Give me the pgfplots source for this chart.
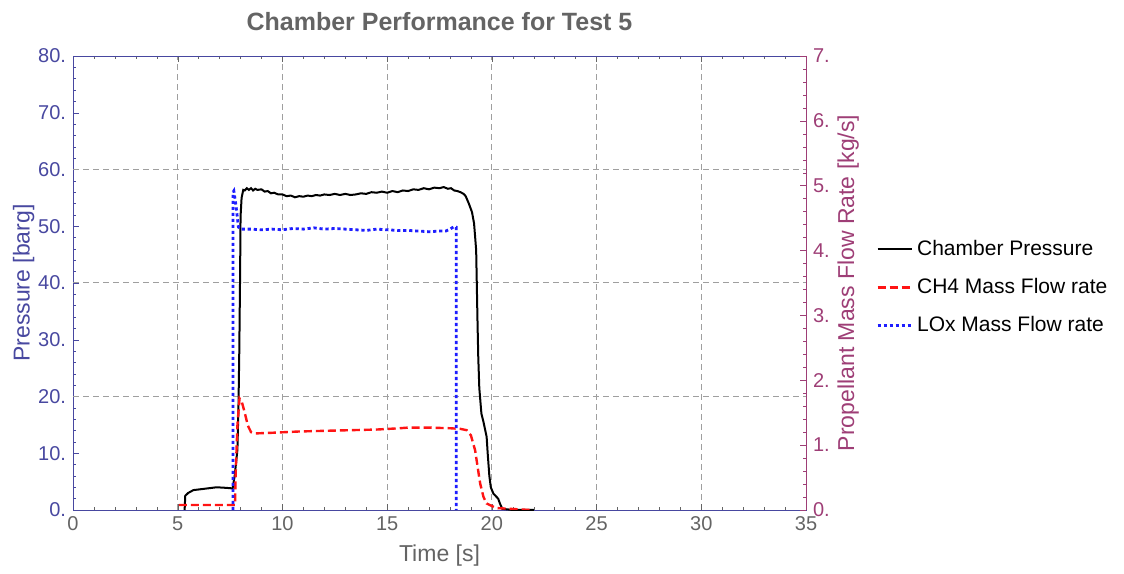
\documentclass[border=0pt]{standalone}
\usepackage{fontspec}
\setmainfont{Liberation Sans}
\usepackage{pgfplots}
\pgfplotsset{compat=1.18}
\definecolor{lcol}{RGB}{72,72,160}
\definecolor{rcol}{RGB}{158,62,118}
\definecolor{gcol}{RGB}{100,100,100}
\definecolor{lox}{RGB}{30,30,255}
\definecolor{ch4}{RGB}{255,20,20}

\pgfplotsset{
  common/.style={
    width=366.5pt, height=227pt, scale only axis,
    xmin=0, xmax=35, tick align=inside,
    major tick length=3pt, minor tick length=1.5pt,
    /pgf/number format/assume math mode=true,
    every tick label/.append style={font=\fontsize{10}{12}\selectfont},
    label style={font=\fontsize{11.5}{13}\selectfont},
  },
}

\begin{document}
\begin{tikzpicture}
\begin{axis}[common, clip=false,
  ymin=0, ymax=80,
  xtick={0,5,...,35}, minor x tick num=4, xtick pos=both,
  ytick={0,10,...,80}, yticklabels={0.,10.,20.,30.,40.,50.,60.,70.,80.},
  minor y tick num=4, ytick pos=left,
  xmajorgrids, grid style={gray!75, dash pattern=on 3pt off 2pt, line width=0.5pt},
  extra y ticks={20,40,60}, extra y tick labels={},
  extra y tick style={grid=major, major tick length=0pt},
  x axis line style={gray!80}, y axis line style={lcol},
  xtick style={gcol}, ytick style={lcol},
  xticklabel style={gcol}, yticklabel style={lcol},
  xlabel={Time [s]}, xlabel style={gcol},
  ylabel={Pressure [barg]}, ylabel style={lcol}, ylabel shift=-5pt,
  title={Chamber Performance for Test 5},
  title style={gcol, font=\fontsize{12.5}{15}\selectfont\bfseries, yshift=3pt},
]
\addplot[black, line width=1pt] coordinates {
(5.33,0) (5.36,2.5) (5.5,3.0) (5.75,3.5) (6.2,3.7) (6.86,4.0) (7.3,3.9) (7.62,3.8)
(7.72,6) (7.85,10.6) (7.9,18) (7.94,28) (7.98,42) (8.0,51.7) (8.05,55) (8.13,56.4)
(8.2,56.3) (8.3,56.7) (8.4,56.4) (8.5,56.7) (8.6,56.3) (8.7,56.6) (8.8,56.4) (9.0,56.5)
(9.15,56.1) (9.3,56.2) (9.45,55.8) (9.6,55.9) (9.8,55.6) (10.0,55.6) (10.2,55.3)
(10.4,55.4) (10.6,55.1) (10.8,55.3) (11.0,55.2) (11.2,55.4) (11.4,55.3) (11.6,55.5)
(11.8,55.4) (12.0,55.6) (12.25,55.5) (12.5,55.7) (12.75,55.5) (13.0,55.7) (13.25,55.5)
(13.5,55.6) (13.75,55.8) (14.0,55.7) (14.25,56.0) (14.5,55.9) (14.75,56.1) (15.0,55.9)
(15.25,56.2) (15.5,56.0) (15.75,56.3) (16.0,56.2) (16.25,56.5) (16.5,56.4) (16.75,56.7)
(17.0,56.5) (17.25,56.8) (17.5,56.7) (17.7,56.9) (17.9,56.6) (18.05,56.7) (18.2,56.3)
(18.35,56.2) (18.5,56.0) (18.65,55.7) (18.75,55.3)
(18.9,54.0) (19.05,52.5) (19.15,50.5) (19.25,45.8) (19.28,40) (19.31,34) (19.35,27)
(19.4,21.5) (19.5,17) (19.6,15.5) (19.75,12.9) (19.8,10) (19.88,6) (19.95,4)
(20.07,2.9) (20.3,2.0) (20.4,1.0) (20.5,0.2) (21,0) (22,0)
};
\path (rel axis cs:-0.0996,-0.1322) rectangle (rel axis cs:1.4338,1.1233);
\end{axis}
\begin{axis}[common,
  ymin=0, ymax=7,
  axis x line=none, axis y line*=right,
  ytick={0,1,...,7}, yticklabels={0.,1.,2.,3.,4.,5.,6.,7.},
  minor y tick num=4,
  y axis line style={rcol, -}, ytick style={rcol}, yticklabel style={rcol},
  ylabel={Propellant Mass Flow Rate [kg/s]}, ylabel style={rcol}, ylabel shift=-3pt,
  legend style={draw=none, fill=none, at={(1.087,0.49)}, anchor=west,
    font=\fontsize{10.5}{12}\selectfont, row sep=6pt},
  legend cell align=left,
]
\addlegendimage{black, line width=1pt}
\addlegendentry{Chamber Pressure}
\addplot[ch4, line width=1.2pt, dash pattern=on 4pt off 2pt] coordinates {
(5.05,0.077) (7.74,0.077) (7.76,0.5) (7.85,1.3) (7.95,1.72) (8.05,1.68) (8.2,1.5)
(8.35,1.3) (8.5,1.2) (8.7,1.18) (9.5,1.19) (10.8,1.21) (12,1.22) (13.2,1.23)
(14.5,1.24) (15.6,1.26) (16,1.27) (17,1.27) (18.0,1.26) (18.5,1.25) (18.8,1.23)
(19.0,1.15) (19.2,0.92) (19.35,0.6) (19.44,0.41) (19.6,0.2) (19.75,0.1) (20.2,0.03)
(21.8,0.0)
};
\addlegendentry{CH4 Mass Flow rate}
\addplot[lox, line width=1.4pt, dash pattern=on 1.6pt off 1.4pt] coordinates {
(7.64,0) (7.64,4.9) (7.68,4.92) (7.78,4.7) (7.9,4.36) (8.0,4.33) (8.5,4.33) (9,4.32)
(9.5,4.33) (10,4.32) (10.5,4.34) (11,4.33) (11.5,4.35) (12,4.33) (12.5,4.34)
(13,4.33) (13.5,4.32) (14,4.31) (14.5,4.33) (15,4.32) (15.5,4.31) (16,4.31)
(16.5,4.30) (17,4.29) (17.5,4.30) (17.8,4.30) (18.0,4.33) (18.2,4.37) (18.3,4.36)
(18.3,0)
};
\addlegendentry{LOx Mass Flow rate}
\end{axis}
\end{tikzpicture}
\end{document}
